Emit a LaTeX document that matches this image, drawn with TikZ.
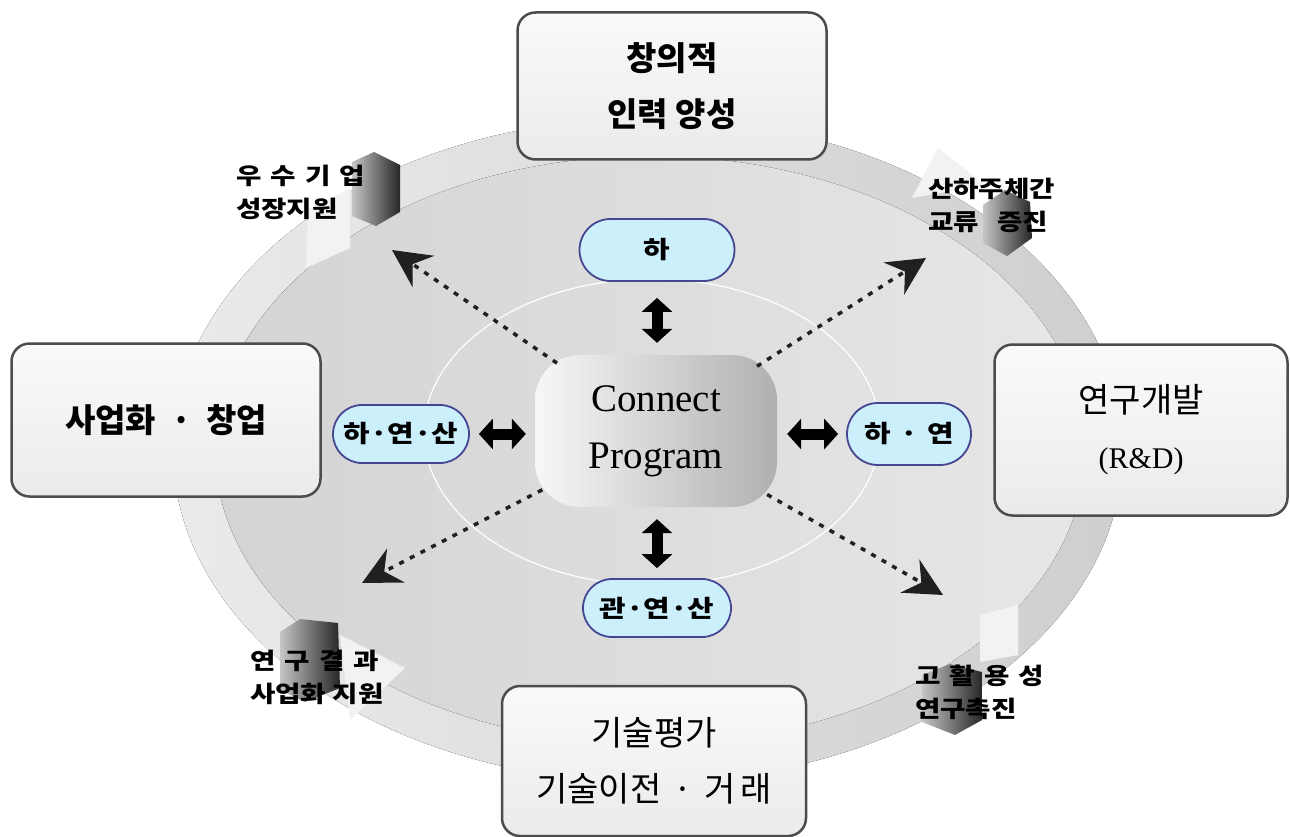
\documentclass[tikz,border=0pt]{standalone}
\usepackage{fontspec}
\setmainfont{Liberation Serif}
\newfontfamily\kr{Noto Sans CJK KR}
\newfontfamily\krw{Noto Sans CJK KR}[FakeStretch=1.2]
\newfontfamily\tms{Liberation Serif}
\usetikzlibrary{arrows.meta,shapes.misc}
\newcommand\gp{\hspace{0.4em}}
\tikzset{
  bigbox/.style={draw=gray!60!black, line width=2.5pt, rounded corners=18pt,
    top color=gray!4, bottom color=gray!16, align=center, inner sep=0pt,
    font=\kr\bfseries\fontsize{33}{56}\selectfont},
  lightbox/.style={bigbox, font=\kr\fontsize{34}{56}\selectfont},
  pill/.style={rounded rectangle, draw=blue!35!gray!85!black, line width=1.8pt,
    fill=cyan!20, inner sep=0pt, font=\krw\bfseries\fontsize{24}{28}\selectfont},
  lbl/.style={font=\krw\bfseries\fontsize{23}{33}\selectfont, align=left, anchor=west, inner sep=0pt},
  dbl/.style={line width=11pt, {Triangle[width=30pt,length=14pt]}-{Triangle[width=30pt,length=14pt]}},
  dotarrow/.style={draw=gray!25!black, line width=3.5pt, dash pattern=on 5pt off 7pt,
    -{Stealth[length=38pt,width=38pt,inset=13pt,fill=gray!25!black]}},
  block/.style={left color=gray!45, right color=black!85},
  wedge/.style={fill=gray!10}
}
\begin{document}
\begin{tikzpicture}[x=1pt,y=-1pt]
\useasboundingbox (0,0) rectangle (1290,837);
\fill[white] (0,0) rectangle (1290,837);
% ring
\fill[left color=gray!16, right color=gray!38] (648,450) ellipse [x radius=475, y radius=332];
\fill[left color=gray!34, right color=gray!19] (650,450) ellipse [x radius=435, y radius=294];
% light arrow wedges of the ring
\fill[wedge] (306,268) -- (308,210) -- (350,188) -- (350,248) -- cycle;
\fill[wedge] (938,148) -- (912,198) -- (985,185) -- cycle;
\fill[wedge] (340,635) -- (405,668) -- (350,720) -- cycle;
\fill[wedge] (980,615) -- (1018,605) -- (1018,655) -- (980,662) -- cycle;
% 3D blocks
\shade[block] (352,162) -- (374,152) -- (400,165) -- (400,212) -- (376,226) -- (352,216) -- cycle;
\shade[block] (983,205) -- (1005,190) -- (1030,202) -- (1032,238) -- (1007,256) -- (983,243) -- cycle;
\shade[block] (280,632) -- (300,619) -- (338,623) -- (340,688) -- (305,702) -- (280,690) -- cycle;
\shade[block] (922,675) -- (950,664) -- (982,672) -- (982,720) -- (955,735) -- (922,722) -- cycle;
% white inner ellipse
\draw[white, line width=1.2pt] (652,432) ellipse [x radius=228, y radius=153];
% corner labels
\node[lbl] (lTL) at (236,192) {우\gp 수\gp 기\gp 업\\성장지원};
\node[lbl] (lTR) at (928,205) {산하주체간\\교류\hspace{0.8em}증진};
\node[lbl] (lBL) at (250,677) {연\gp 구\gp 결\gp 과\\사업화 지원};
\node[lbl] (lBR) at (915,692) {고\gp 활\gp 용\gp 성\\연구촉진};
% centre
\node[rounded corners=45pt, minimum width=242pt, minimum height=152pt, inner sep=0pt,
  left color=gray!6, right color=gray!62, align=center,
  font=\tms\fontsize{39}{57}\selectfont] (cp) at (656,431) {Connect\\Program};
% pills
\node[pill, minimum width=155pt, minimum height=62pt] (ha) at (657,250) {하};
\node[pill, minimum width=136pt, minimum height=58pt] (hys) at (401,434) {하·연·산};
\node[pill, minimum width=124pt, minimum height=62pt] (hy) at (909,434) {하\gp·\gp 연};
\node[pill, minimum width=148pt, minimum height=58pt] (gys) at (657,608) {관·연·산};
% double arrows
\draw[dbl, shorten <=16pt, shorten >=12pt] (ha.south) -- (ha.south |- cp.north);
\draw[dbl, shorten <=10pt, shorten >=12pt] (gys.north) -- (gys.north |- cp.south);
\draw[dbl, shorten <=9pt, shorten >=9pt] (hys.east) -- (hys.east -| cp.west);
\draw[dbl, shorten <=8pt, shorten >=10pt] (hy.west) -- (hy.west -| cp.east);
% dotted arrows
\coordinate (tNW) at (392,250);
\coordinate (tNE) at (926,258);
\coordinate (tSW) at (362,583);
\coordinate (tSE) at (943,595);
\draw[dotarrow, shorten <=120pt] (cp.center) -- (tNW);
\draw[dotarrow, shorten <=120pt] (cp.center) -- (tNE);
\draw[dotarrow, shorten <=128pt] (cp.center) -- (tSW);
\draw[dotarrow, shorten <=128pt] (cp.center) -- (tSE);
% big boxes
\node[bigbox, minimum width=309pt, minimum height=147pt] (top) at (672,86) {창의적\\인력 양성};
\node[bigbox, minimum width=309pt, minimum height=153pt] (left) at (166,420) {사업화\hspace{0.45em}·\hspace{0.45em}창업};
\node[lightbox, minimum width=293pt, minimum height=171pt] (right) at (1141,430) {연구개발\\{\tms\fontsize{30}{56}\selectfont (R\&D)}};
\node[lightbox, minimum width=304pt, minimum height=150pt] (bottom) at (654,761) {기술평가\\기술이전\hspace{0.35em}·\hspace{0.35em}거\hspace{0.15em}래};
\end{tikzpicture}
\end{document}
